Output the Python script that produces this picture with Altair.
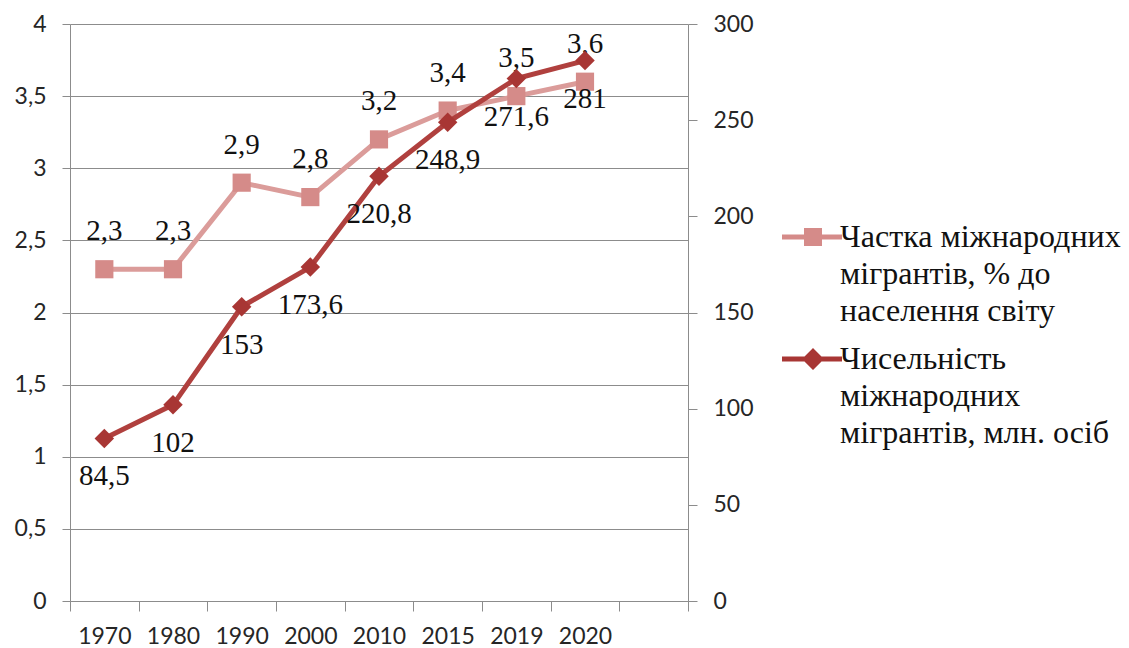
import altair as alt
import pandas as pd

# ---- data ----
years = ["1970", "1980", "1990", "2000", "2010", "2015", "2019", "2020"]
share_pct = [2.3, 2.3, 2.9, 2.8, 3.2, 3.4, 3.5, 3.6]          # left axis, %
migrants_mln = [84.5, 102, 153, 173.6, 220.8, 248.9, 271.6, 281]  # right axis, mln
x_domain = years + [" "]          # the empty last category slot on the x axis
left_ticks = [0, 0.5, 1, 1.5, 2, 2.5, 3, 3.5, 4]
right_ticks = [0, 50, 100, 150, 200, 250, 300]
series_share = ["Частка міжнародних", "мігрантів, % до", "населення світу"]
series_count = ["Чисельність", "міжнародних", "мігрантів, млн. осіб"]

PINK_LINE = "#DB9C9A"
PINK_MARK = "#D58B89"
DARK_LINE = "#B0403E"
DARK_MARK = "#A83634"
GRID = "#8C8C8C"
TXT = "#111111"
AXIS_FONT = "Lato"
SERIF = "Liberation Serif"

df = pd.DataFrame({"year": years, "share": share_pct, "count": migrants_mln})

x_enc = alt.X(
    "year:N",
    scale=alt.Scale(type="band", domain=x_domain, paddingInner=0, paddingOuter=0),
    bandPosition=0.5,
    axis=alt.Axis(title=None, tickBand="extent", labelAngle=0, tickSize=10,
                  labelPadding=14, labelBaseline="top", domain=True),
)

y_left = alt.Y(
    "share:Q",
    scale=alt.Scale(domain=[0, 4], nice=False, zero=True),
    axis=alt.Axis(orient="left", values=left_ticks, grid=True, title=None,
                  tickSize=8, labelPadding=16,
                  labelExpr="replace(toString(datum.value), '.', ',')"),
)
y_right = alt.Y(
    "count:Q",
    scale=alt.Scale(domain=[0, 300], nice=False, zero=True),
    axis=alt.Axis(orient="right", values=right_ticks, grid=False, title=None,
                  tickSize=9, labelPadding=16),
)

base = alt.Chart(df)

pink = alt.layer(
    base.mark_line(color=PINK_LINE, strokeWidth=5).encode(x=x_enc, y=y_left),
    base.mark_point(shape="square", filled=True, size=330, color=PINK_MARK, opacity=1)
        .encode(x=x_enc, y=y_left),
    base.transform_calculate(lbl="replace(toString(datum.share), '.', ',')")
        .mark_text(font=SERIF, fontSize=29, dy=-38, color=TXT)
        .encode(x=x_enc, y=y_left, text="lbl:N"),
)

dark = alt.layer(
    base.mark_line(color=DARK_LINE, strokeWidth=5).encode(x=x_enc, y=y_right),
    base.mark_point(shape="diamond", filled=True, size=380, color=DARK_MARK, opacity=1)
        .encode(x=x_enc, y=y_right),
    base.transform_calculate(lbl="replace(toString(datum.count), '.', ',')")
        .mark_text(font=SERIF, fontSize=29, dy=38, color=TXT)
        .encode(x=x_enc, y=y_right, text="lbl:N"),
)

# legend: line-with-marker symbols as custom paths (unit = 10px)
PATH_SQ = "M-3.1,-1.25H2.9V-0.75H-3.1Z M-0.9,-1.9H0.9V-0.1H-0.9Z"
PATH_DIA = "M-3.1,-1.25H2.9V-0.75H-3.1Z M0,-2.1L1.1,-1L0,0.1L-1.1,-1Z"
leg_names = ["|".join(series_share), "|".join(series_count)]
leg_df = pd.DataFrame({"series": leg_names})

legend_spec = alt.Legend(
    orient="none", legendX=727, legendY=207, title=None, padding=0,
    labelFont=SERIF, labelFontSize=32, labelColor=TXT, labelLimit=0,
    labelOffset=11, labelBaseline="alphabetic",
    labelExpr="split(datum.label, '|')", rowPadding=16,
    symbolSize=400, symbolStrokeWidth=0, symbolOffset=0,
)
legend_layer = alt.Chart(leg_df).transform_filter("false").mark_point(
    filled=True, size=400, opacity=1
).encode(
    color=alt.Color("series:N", scale=alt.Scale(domain=leg_names, range=[PINK_MARK, DARK_MARK]),
                    legend=legend_spec),
    shape=alt.Shape("series:N", scale=alt.Scale(domain=leg_names, range=[PATH_SQ, PATH_DIA]),
                    legend=legend_spec),
)

chart = (
    alt.layer(pink, dark, legend_layer)
    .resolve_scale(y="independent")
    .properties(
        width=618, height=577,
        padding={"left": 62, "top": 16, "right": 433, "bottom": 46},
        autosize=alt.AutoSizeParams(type="none"),
        background="white",
    )
    .configure(style={"guide-label": {"lineHeight": 37}})
    .configure_view(stroke=None)
    .configure_axis(
        domainColor=GRID, tickColor=GRID, gridColor=GRID, domainWidth=1, tickWidth=1,
        gridWidth=1, labelFont=AXIS_FONT, labelFontSize=23, labelColor="#262626",
    )
    .configure_text(font=SERIF)
    .configure_legend(labelFont=SERIF)
)

chart.save("out.html", embed_options={"renderer": "svg", "actions": False})
